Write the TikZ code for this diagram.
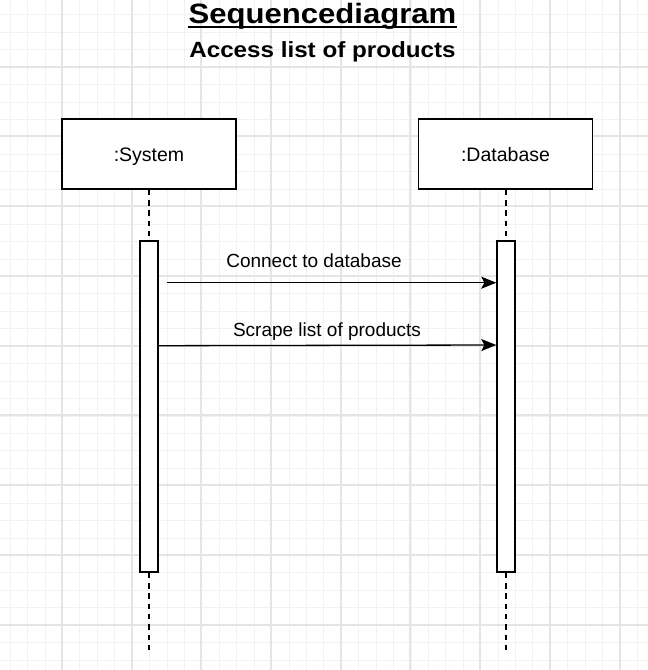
\documentclass[tikz,border=0pt]{standalone}
\usepackage{fontspec}
\setmainfont{Liberation Sans}
\usetikzlibrary{arrows.meta}
\definecolor{gridminor}{HTML}{F2F2F2}
\definecolor{gridmajor}{HTML}{E5E5E5}
\tikzset{
  objbox/.style={draw=black, line width=1.4pt, fill=white, minimum width=174pt, minimum height=70pt, inner sep=0pt, text height=14pt, text depth=0pt, font=\fontsize{19.5}{23}\selectfont},
  actbox/.style={draw=black, line width=1.4pt, fill=white, minimum width=18pt, minimum height=331pt, inner sep=0pt},
  lifeline/.style={line width=1.5pt, dash pattern=on 5.5pt off 4.8pt},
  msg/.style={line width=1.3pt, -{Stealth[length=15pt, width=12pt, inset=3pt]}},
  msglabel/.style={anchor=base, inner sep=0pt, font=\fontsize{19}{23}\selectfont},
  minorline/.style={gridminor, line width=1pt},
  majorline/.style={gridmajor, line width=2pt},
}
\begin{document}
\begin{tikzpicture}[x=1pt, y=-1pt]
\useasboundingbox (0,0) rectangle (648,670);
\fill[white] (0,0) rectangle (648,670);
% grid
\foreach \i in {-4,...,37} {
  \pgfmathsetmacro{\gx}{round(62+17.425*\i)+0.5}
  \draw[minorline] (\gx,0) -- (\gx,670);
}
\foreach \i in {-4,...,38} {
  \pgfmathsetmacro{\gy}{round(66.7+17.44*\i)+0.5}
  \draw[minorline] (0,\gy) -- (648,\gy);
}
\foreach \i in {-1,...,9} {
  \pgfmathsetmacro{\gx}{round(62+69.7*\i)}
  \draw[majorline] (\gx,0) -- (\gx,670);
}
\foreach \i in {-1,...,9} {
  \pgfmathsetmacro{\gy}{round(66.7+69.76*\i)}
  \draw[majorline] (0,\gy) -- (648,\gy);
}
% title
\node[anchor=base, inner sep=0pt] (title) at (322.5,23.3)
  {\scalebox{1.11}[1]{\bfseries\fontsize{28}{32}\selectfont Sequencediagram}};
\draw[line width=1.8pt] ([yshift=-4pt]title.base west) -- ([yshift=-4pt]title.base east);
\node[anchor=base, inner sep=0pt] (subtitle) at (322.5,57.3)
  {\scalebox{1.1}[1]{\bfseries\fontsize{22}{26}\selectfont Access list of products}};
% objects
\node[objbox] (sys) at (149,154) {:System};
\node[objbox] (db) at (505.5,154) {:Database};
\node[actbox] (sysact) at (149,406.5) {};
\node[actbox] (dbact) at (506,406.5) {};
\coordinate (sysend) at (149,655);
\coordinate (dbend) at (506,655);
\draw[lifeline] (sys.south) -- (sysact.north);
\draw[lifeline] (sysact.south) -- (sysend);
\draw[lifeline] (db.south -| dbact.north) -- (dbact.north);
\draw[lifeline] (dbact.south) -- (dbend);
% messages
\coordinate (m1s) at (166.7,282.7);
\coordinate (m2s) at (158,345.7);
\draw[msg] (m1s) -- (dbact.west |- m1s);
\draw[msg] (m2s) -- (dbact.west |- 0,345);
\node[msglabel] (l1) at (314,267.7) {Connect to database};
\node[msglabel] (l2) at (327,336) {Scrape list of products};
\end{tikzpicture}
\end{document}
